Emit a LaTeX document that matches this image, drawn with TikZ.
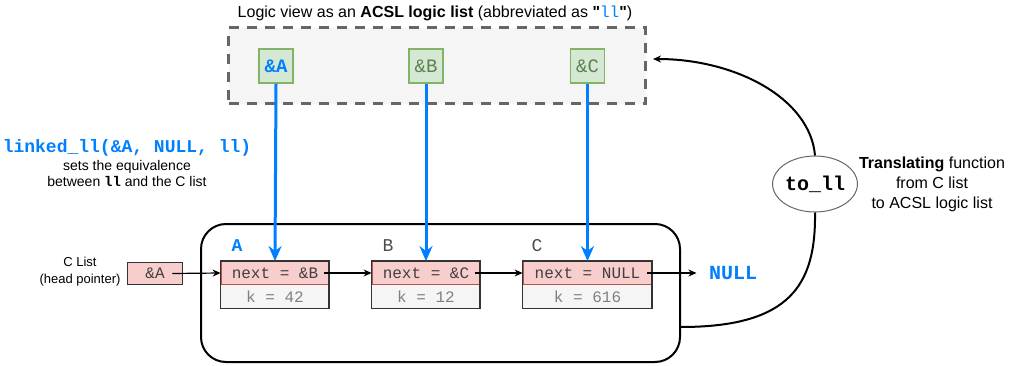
\documentclass[tikz,border=0pt]{standalone}
\usepackage{fontspec}
\setmainfont{Liberation Sans}[Ligatures=TeXOff]
\setmonofont{Liberation Mono}
\usetikzlibrary{arrows.meta,shapes.geometric}
\definecolor{ablue}{HTML}{007FFF}
\definecolor{greenfill}{HTML}{D5E8D4}
\definecolor{greendraw}{HTML}{82B366}
\definecolor{greentext}{HTML}{5E7F50}
\definecolor{redfill}{HTML}{F8CECC}
\definecolor{reddraw}{HTML}{B85450}
\definecolor{grayfill}{HTML}{F5F5F5}
\definecolor{dashgray}{HTML}{666666}

\begin{document}
\begin{tikzpicture}[x=1pt,y=-1pt,
    greenbox/.style={draw=greendraw, fill=greenfill, line width=1.5pt, minimum width=34pt, minimum height=34pt, inner sep=0pt, font=\fontsize{19}{20}\selectfont\ttfamily, text=greentext},
    nextrow/.style={draw=reddraw, fill=redfill, line width=0.8pt, minimum height=23pt, inner sep=0pt, font=\fontsize{16}{18}\selectfont\ttfamily, text=black!75},
    krow/.style={fill=grayfill, minimum height=23pt, inner sep=0pt, anchor=north, font=\fontsize{16}{18}\selectfont\ttfamily, text=black!50},
    frame/.style={draw=black!80, line width=1.5pt},
    varname/.style={font=\fontsize{18}{20}\selectfont\ttfamily, text=black!70},
    bluearrow/.style={draw=ablue, line width=3pt, -{Stealth[length=15pt,width=13pt]}},
    ptr/.style={draw=black, line width=1.2pt, -{Stealth[length=8pt,width=7pt]}},
    sans/.style={align=center, font=\fontsize{14}{16}\selectfont}]
  \useasboundingbox (0,0) rectangle (1019,366);

  \node[font=\fontsize{16}{19}\selectfont] (title) at (435,13) {Logic view as an \textbf{ACSL logic list} (abbreviated as \textbf{"}{\ttfamily\color{ablue}ll}\textbf{"})};
  \node[draw=dashgray, fill=grayfill, line width=3pt, dash pattern=on 10pt off 8pt, minimum width=417pt, minimum height=76pt] (logicview) at (437,66) {};
  \node[greenbox, text=ablue, font=\fontsize{19}{20}\selectfont\ttfamily\bfseries] (gA) at (276,66) {\&A};
  \node[greenbox] (gB) at (426,66) {\&B};
  \node[greenbox] (gC) at (587.5,66) {\&C};

  \node[draw=black, line width=2pt, rounded corners=25pt, minimum width=479pt, minimum height=138pt] (clist) at (440.5,293) {};

  \node[varname, text=ablue, font=\fontsize{18}{20}\selectfont\ttfamily\bfseries] (lA) at (237,246) {A};
  \node[varname] (lB) at (388,246) {B};
  \node[varname] (lC) at (537,246) {C};

  \node[nextrow, minimum width=108pt] (Anext) at (275,273) {next = \&B};
  \node[krow, minimum width=108pt] (Ak) at (Anext.south) {k = 42};
  \draw[frame] (Anext.north west) rectangle (Ak.south east);
  \node[nextrow, minimum width=108pt] (Bnext) at (426,273) {next = \&C};
  \node[krow, minimum width=108pt] (Bk) at (Bnext.south) {k = 12};
  \draw[frame] (Bnext.north west) rectangle (Bk.south east);
  \node[nextrow, minimum width=129pt] (Cnext) at (587.5,273) {next = NULL};
  \node[krow, minimum width=129pt] (Ck) at (Cnext.south) {k = 616};
  \draw[frame] (Cnext.north west) rectangle (Ck.south east);

  \node[nextrow, draw=black!80, line width=1.5pt, minimum width=55pt, minimum height=22pt] (head) at (155,273.5) {\&A};
  \node[sans, font=\fontsize{13}{17}\selectfont] (headlabel) at (80,272) {C List\\(head pointer)};
  \node[font=\fontsize{20}{22}\selectfont\ttfamily\bfseries, text=ablue] (null) at (733,273) {NULL};

  \draw[ptr] ([xshift=-11pt]head.east) -- (Anext.west);
  \draw[ptr] ([xshift=-5pt]Anext.east) -- (Bnext.west);
  \draw[ptr] ([xshift=-5pt]Bnext.east) -- (Cnext.west);
  \draw[ptr] ([xshift=-5pt]Cnext.east) -- ([xshift=-9pt]null.west);

  \draw[bluearrow] (gA.south) -- (Anext.north);
  \draw[bluearrow] (gB.south) -- (Bnext.north);
  \draw[bluearrow] (gC.south) -- (Cnext.north);

  \node[sans] (linked) at (127,163) {{\fontsize{18}{20}\selectfont\ttfamily\bfseries\color{ablue}linked\_ll(\&A, NULL, ll)}\\[2pt]sets the equivalence\\between {\ttfamily\bfseries ll} and the C list};

  \node[ellipse, draw=black!60, fill=white, line width=1pt, minimum width=67pt, minimum height=56pt, inner sep=0pt, font=\fontsize{20}{22}\selectfont\ttfamily\bfseries] (toll) at (815,184) {to\_ll};
  \draw[line width=2pt] ([yshift=-34pt]clist.east) .. controls (790,327) and (816,285) .. (toll.south);
  \draw[ptr, line width=2pt] (toll.north) .. controls (810,98) and (735,59) .. ([xshift=6pt,yshift=7pt]logicview.east);
  \node[sans, font=\fontsize{16}{20}\selectfont] (translating) at (932,184) {\textbf{Translating} function\\from C list\\to ACSL logic list};
\end{tikzpicture}
\end{document}
